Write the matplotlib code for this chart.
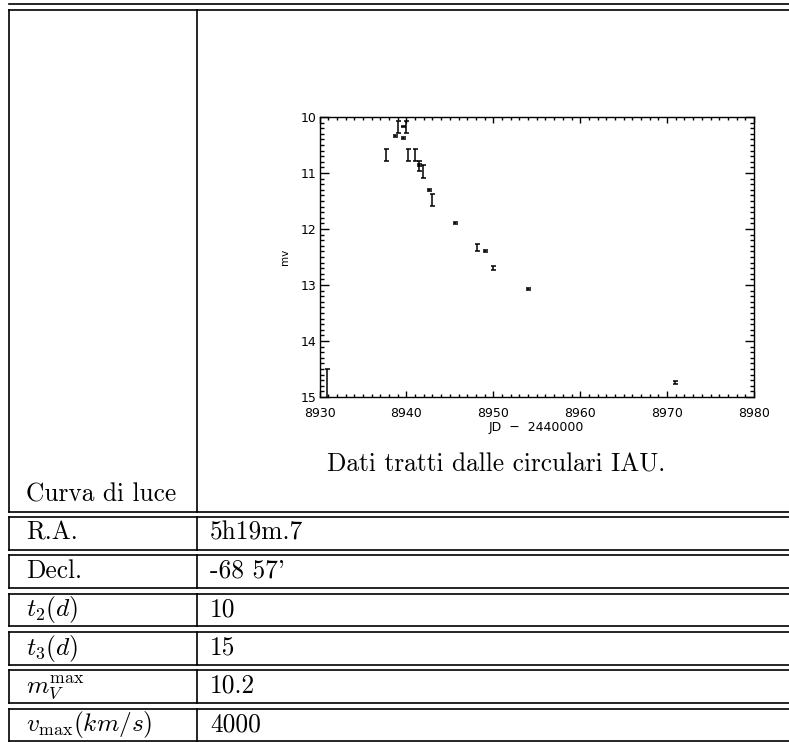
import matplotlib
matplotlib.use("Agg")
import matplotlib.pyplot as plt
from matplotlib.ticker import MultipleLocator

plt.rcParams["mathtext.fontset"] = "cm"

# Light curve (JD - 2440000, visual magnitude, error)
jd = [8930.9, 8937.7, 8938.7, 8939.0, 8939.6, 8939.6, 8940.0, 8940.2, 8941.0,
      8941.4, 8941.5, 8941.9, 8942.6, 8942.9, 8945.6, 8948.1, 8949.0, 8950.0,
      8954.0, 8970.9]
mag = [15.0, 10.68, 10.34, 10.18, 10.17, 10.38, 10.18, 10.68, 10.68,
       10.86, 10.875, 10.975, 11.31, 11.485, 11.89, 12.33, 12.39, 12.70,
       13.065, 14.74]
mag_err = [0.5, 0.1, 0.015, 0.1, 0.015, 0.015, 0.1, 0.1, 0.1,
           0.015, 0.095, 0.115, 0.02, 0.105, 0.015, 0.065, 0.02, 0.035,
           0.02, 0.025]

# Table rows under the plot
row_labels = ["R.A.", "Decl.", r"$t_2(d)$", r"$t_3(d)$",
              r"$m_V^{\rm max}$", r"$v_{\rm max}(km/s)$"]
row_values = ["5h19m.7", "-68 57'", "10", "15", "10.2", "4000"]

W, H = 789, 742
fig = plt.figure(figsize=(W / 100, H / 100), dpi=100)
fig.patch.set_facecolor("white")

# page layer in pixel coordinates for the table rules and text
page = fig.add_axes([0, 0, 1, 1])
page.set_xlim(0, W)
page.set_ylim(H, 0)
page.axis("off")

LW = 1.2
X_LEFT, X_MID, X_RIGHT = 9.3, 196.7, W + 5
SERIF = "cmr10"
TSIZE = 18.3

# boxes: first big cell, then six single-line rows, separated by double rules
tops = [10.0] + [517.0 + 38.3 * i for i in range(6)]
bottoms = [511.7] + [t + 32.7 for t in tops[1:]]

page.plot([X_LEFT, X_RIGHT], [4.0, 4.0], color="black", lw=LW)
for t, b in zip(tops, bottoms):
    page.plot([X_LEFT, X_RIGHT], [t, t], color="black", lw=LW)
    page.plot([X_LEFT, X_RIGHT], [b, b], color="black", lw=LW)
    page.plot([X_LEFT, X_LEFT], [t, b], color="black", lw=LW)
    page.plot([X_MID, X_MID], [t, b], color="black", lw=LW)

page.text(26, bottoms[0] - 10, "Curva di luce", fontsize=TSIZE, family=SERIF,
          ha="left", va="baseline")
page.text(496, 471, "Dati tratti dalle circulari IAU.", fontsize=TSIZE,
          family=SERIF, ha="center", va="baseline")

for b, lab, val in zip(bottoms[1:], row_labels, row_values):
    page.text(26, b - 10, lab, fontsize=TSIZE, family=SERIF,
              ha="left", va="baseline")
    page.text(210, b - 10, val, fontsize=TSIZE, family=SERIF,
              ha="left", va="baseline")

# light curve panel
ax = fig.add_axes([319.5 / W, 1 - 397 / H, (754 - 319.5) / W, (397 - 117) / H])
ax.errorbar(jd, mag, yerr=mag_err, fmt="none", ecolor="black",
            elinewidth=1.1, capsize=1.8, capthick=1.1)
ax.set_xlim(8930, 8980)
ax.set_ylim(15, 10)
ax.xaxis.set_major_locator(MultipleLocator(10))
ax.xaxis.set_minor_locator(MultipleLocator(1))
ax.yaxis.set_major_locator(MultipleLocator(1))
ax.yaxis.set_minor_locator(MultipleLocator(0.1))
ax.tick_params(axis="both", which="both", direction="in", top=True,
               right=True, width=1.0, labelsize=9)
ax.tick_params(axis="x", which="major", length=4, pad=7)
ax.tick_params(axis="x", which="minor", length=2)
ax.tick_params(axis="y", which="major", length=6.3, pad=2)
ax.tick_params(axis="y", which="minor", length=3.1)
for sp in ax.spines.values():
    sp.set_linewidth(1.0)
ax.set_xlabel("JD  \u2212  2440000", fontsize=9, labelpad=1)
ax.set_ylabel("mv", fontsize=7.5, labelpad=8)

fig.savefig("out.png", dpi=100, facecolor="white")
